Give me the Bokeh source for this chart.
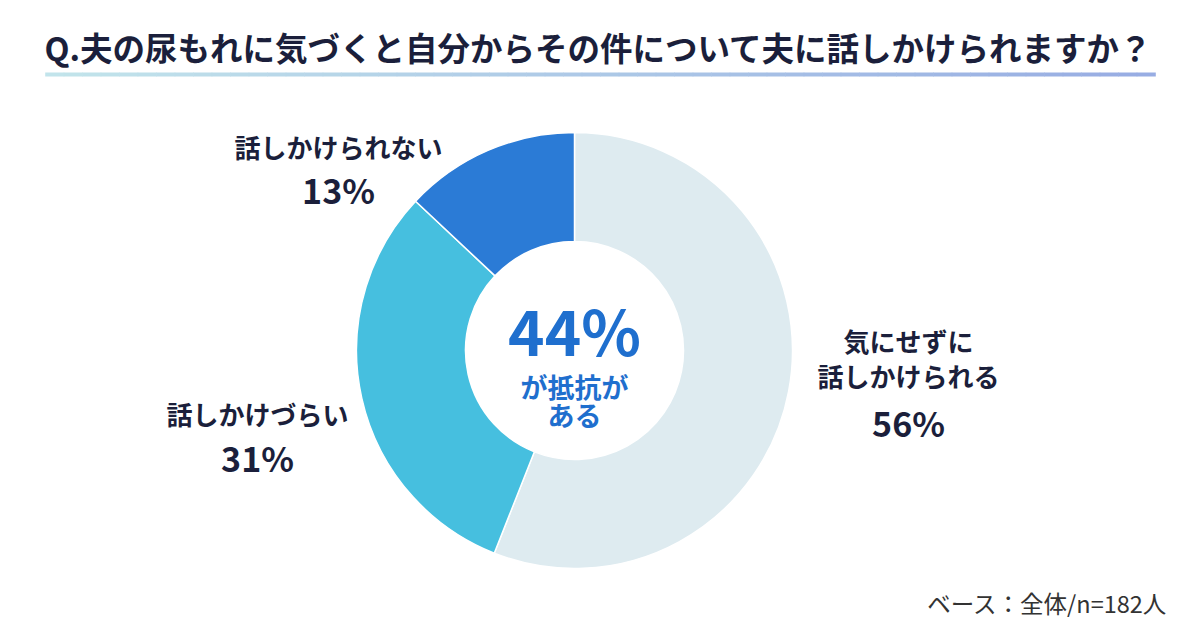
import math
from bokeh.plotting import figure
from bokeh.models import Range1d, ColumnDataSource
from bokeh.core.properties import value
from bokeh.embed import file_html
from bokeh.resources import INLINE

title_text = "Q.夫の尿もれに気づくと自分からその件について夫に話しかけられますか？"
categories = [["気にせずに", "話しかけられる"], ["話しかけづらい"], ["話しかけられない"]]
values = [56, 31, 13]
colors = ["#deebf0", "#46bfdf", "#2b7bd6"]
center_big = "44%"
center_small = ["が抵抗が", "ある"]
base_note = "ベース：全体/n=182人"

W, H = 1190, 622
FONT = "Noto Sans CJK JP"
DARK = "#1b1f3b"

def X(px):
    return px

def Y(py):
    return H - py

p = figure(width=W, height=H, output_backend="svg", toolbar_location=None,
           x_range=Range1d(0, W), y_range=Range1d(0, H), min_border=0)
p.axis.visible = False
p.grid.visible = False
p.outline_line_color = None
p.background_fill_color = "white"
p.border_fill_color = "white"

# title
p.text(x=[X(44)], y=[Y(46)], text=[title_text], text_font=value(FONT),
       text_font_style="bold", text_font_size="32.5px", text_color=DARK,
       text_baseline="middle", text_align="left")

# gradient underline
c0 = (0xc2, 0xe4, 0xeb)
c1 = (0x98, 0xad, 0xe3)
n = 60
x0, x1 = 45, 1155
segw = (x1 - x0) / n
xs, cs = [], []
for i in range(n):
    t = i / (n - 1)
    r = int(c0[0] + (c1[0] - c0[0]) * t)
    g = int(c0[1] + (c1[1] - c0[1]) * t)
    b = int(c0[2] + (c1[2] - c0[2]) * t)
    xs.append(X(x0 + segw * (i + 0.5)))
    cs.append("#%02x%02x%02x" % (r, g, b))
p.rect(x=xs, y=[Y(74)] * n, width=segw + 0.6, height=4, fill_color=cs, line_color=None)

# donut
total = sum(values)
starts, ends = [], []
cum = 0
for v in values:
    starts.append(math.pi / 2 - 2 * math.pi * cum / total)
    cum += v
    ends.append(math.pi / 2 - 2 * math.pi * cum / total)
src = ColumnDataSource(dict(start=starts, end=ends, color=colors))
p.annular_wedge(x=X(574), y=Y(350), inner_radius=109, outer_radius=218,
                start_angle="start", end_angle="end", direction="clock",
                fill_color="color", line_color="white", line_width=1.5, source=src)

# center text
p.text(x=[X(574)], y=[Y(328)], text=[center_big], text_font=value(FONT),
       text_font_style="bold", text_font_size="62px", text_color="#1f6fce",
       text_baseline="middle", text_align="center")
for i, s in enumerate(center_small):
    p.text(x=[X(574)], y=[Y(386 + 28 * i)], text=[s], text_font=value(FONT),
           text_font_style="bold", text_font_size="27px", text_color="#1f6fce",
           text_baseline="middle", text_align="center")

# labels
label_pos = [(908, 340, 422), (257, 413, 457), (338, 146, 189)]
for cat, v, (lx, ly, py) in zip(categories, values, label_pos):
    for i, s in enumerate(cat):
        p.text(x=[X(lx)], y=[Y(ly + 35 * i)], text=[s], text_font=value(FONT),
               text_font_style="bold", text_font_size="26px", text_color=DARK,
               text_baseline="middle", text_align="center")
    p.text(x=[X(lx)], y=[Y(py)], text=["%d%%" % v], text_font=value(FONT),
           text_font_style="bold", text_font_size="34px", text_color=DARK,
           text_baseline="middle", text_align="center")

# base note
p.text(x=[X(1167)], y=[Y(602)], text=[base_note], text_font=value(FONT),
       text_font_size="23.5px", text_color="#333333",
       text_baseline="middle", text_align="right")

open("out.html", "w").write(file_html(p, INLINE))
